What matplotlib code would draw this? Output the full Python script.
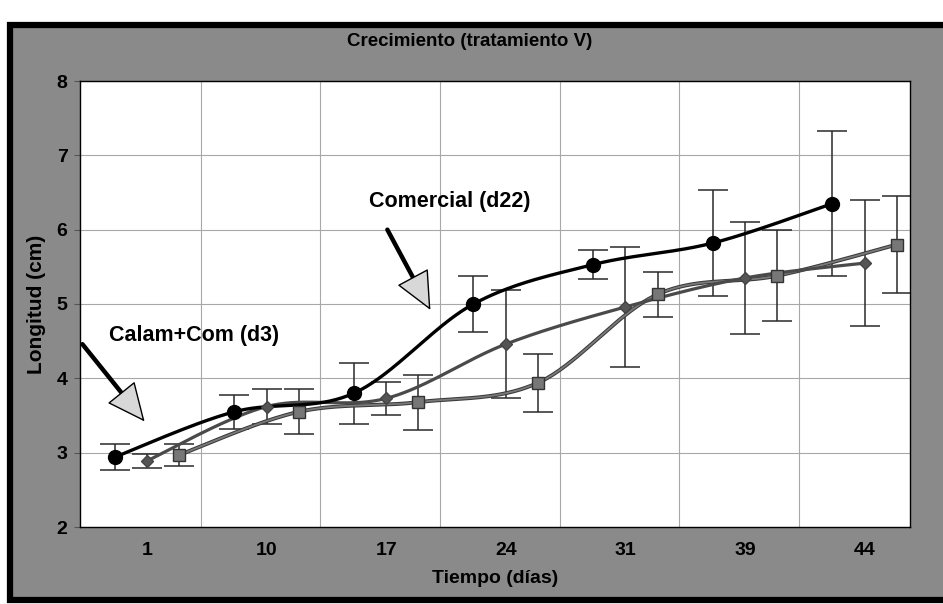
import numpy as np
import matplotlib
matplotlib.use('Agg')
import matplotlib.pyplot as plt
from matplotlib.patches import Rectangle

# Datos (longitud media y desviacion, cm)
dias = ['1', '10', '17', '24', '31', '39', '44']

circulo = [2.94, 3.55, 3.80, 5.00, 5.53, 5.82, 6.35]
circulo_err = [0.17, 0.23, 0.41, 0.38, 0.19, 0.71, 0.98]

rombo = [2.89, 3.62, 3.73, 4.46, 4.96, 5.35, 5.55]
rombo_err = [0.09, 0.24, 0.22, 0.73, 0.81, 0.75, 0.85]

cuadrado = [2.97, 3.55, 3.68, 3.94, 5.13, 5.38, 5.80]
cuadrado_err = [0.15, 0.30, 0.37, 0.39, 0.30, 0.61, 0.65]

plt.rcParams['font.family'] = ['Liberation Sans', 'DejaVu Sans']
plt.rcParams['font.weight'] = 'bold'


def suave(x, y, n=40):
    # curva suavizada tipo Excel (Bezier con tangentes de Catmull-Rom)
    P = np.column_stack([x, y])
    P = np.vstack([P[0], P, P[-1]])
    xs, ys = [], []
    for i in range(len(x) - 1):
        p0, p1, p2, p3 = P[i], P[i + 1], P[i + 2], P[i + 3]
        c1 = p1 + (p2 - p0) / 6
        c2 = p2 - (p3 - p1) / 6
        t = np.linspace(0, 1, n)[:, None]
        b = (1 - t) ** 3 * p1 + 3 * (1 - t) ** 2 * t * c1 + 3 * (1 - t) * t ** 2 * c2 + t ** 3 * p2
        xs.extend(b[:, 0])
        ys.extend(b[:, 1])
    return np.array(xs), np.array(ys)


def flecha(ax, cola, punta):
    ax.annotate('', xy=punta, xytext=cola,
                arrowprops=dict(arrowstyle='-', color='black', lw=3.2,
                                shrinkA=0, shrinkB=14), annotation_clip=False)
    ax.annotate('', xy=punta, xytext=cola,
                arrowprops=dict(arrowstyle='-|>,head_length=1.2,head_width=0.55',
                                fc='#d8d8d8', ec='black', lw=1,
                                shrinkA=0, shrinkB=0, mutation_scale=21),
                annotation_clip=False)


fig = plt.figure(figsize=(9.43, 6.04), dpi=100, facecolor='white')

# marco gris del grafico
marco = Rectangle((10 / 943, 4 / 604), 1.05, 575 / 604,
                  transform=fig.transFigure, facecolor='#8a8a8a',
                  edgecolor='black', lw=4.5, zorder=-10)
fig.patches.append(marco)

ax = fig.add_axes([80 / 943, 77 / 604, 830 / 943, 446 / 604])
ax.set_facecolor('white')

base = np.arange(1, len(dias) + 1)
series = [
    (base - 0.27, circulo, circulo_err),
    (base, rombo, rombo_err),
    (base + 0.27, cuadrado, cuadrado_err),
]

# barras de error
for xs, ys, err in series:
    ax.errorbar(xs, ys, yerr=err, fmt='none', ecolor='#2a2a2a', elinewidth=1.1,
                capsize=10.5, capthick=1.1, zorder=2)

# lineas suavizadas
xc, yc = suave(series[2][0], cuadrado)
ax.plot(xc, yc, color='#3a3a3a', lw=2.8, zorder=3)
ax.plot(xc, yc, color='#7a7a7a', lw=1.3, zorder=3)
xr, yr = suave(series[1][0], rombo)
ax.plot(xr, yr, color='#4a4a4a', lw=2.3, zorder=4)
xb, yb = suave(series[0][0], circulo)
ax.plot(xb, yb, color='black', lw=2.4, zorder=5)

# marcadores
ax.plot(series[2][0], cuadrado, 's', ms=9, mfc='#777777', mec='#333333', mew=1, zorder=6)
ax.plot(series[1][0], rombo, 'D', ms=6.5, mfc='#555555', mec='#444444', zorder=6)
ax.plot(series[0][0], circulo, 'o', ms=10, mfc='black', mec='black', zorder=7)

ax.set_xlim(0.44, 7.38)
ax.set_ylim(2, 8)
ax.set_xticks(base)
ax.set_xticklabels(dias)
ax.set_xticks(base[:-1] + 0.45, minor=True)
ax.set_yticks(range(2, 9))
ax.tick_params(axis='x', which='both', length=0, pad=11, labelsize=14)
ax.tick_params(axis='y', length=4, pad=5, labelsize=14, color='#555555')
ax.grid(axis='y', which='major', color='#a8a8a8', lw=0.8)
ax.grid(axis='x', which='minor', color='#a8a8a8', lw=0.8)
ax.set_axisbelow(True)
for s in ax.spines.values():
    s.set_color('black')
    s.set_linewidth(1)

ax.set_xlabel('Tiempo (días)', fontsize=14, fontweight='bold', labelpad=8)
ax.set_ylabel('Longitud (cm)', fontsize=15, fontweight='bold', labelpad=8)
fig.text(470 / 943, 1 - 42 / 604, 'Crecimiento (tratamiento V)', ha='center', va='center',
         fontsize=13.5, fontweight='bold')

# anotaciones
ax.text(3.53, 6.38, 'Comercial (d22)', ha='center', va='center', fontsize=15.5, fontweight='bold')
flecha(ax, (3.01, 6.0), (3.37, 4.92))
ax.text(1.39, 4.57, 'Calam+Com (d3)', ha='center', va='center', fontsize=15.5, fontweight='bold')
flecha(ax, (0.46, 4.46), (0.98, 3.42))

fig.savefig('out.png', dpi=100, facecolor=fig.get_facecolor())
